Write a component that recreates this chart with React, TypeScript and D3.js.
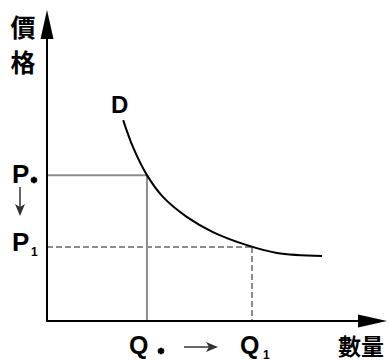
import React from "react";
import * as d3 from "d3";

const W = 389;
const H = 361;

// Demand curve D (quantity, price) in abstract units
const demandQ = [2.24, 2.53, 2.94, 3.41, 4.12, 4.88, 5.88, 6.76, 8.09];
const demandP = [6.46, 5.59, 4.69, 3.99, 3.34, 2.86, 2.44, 2.19, 2.09];

// Equilibrium points
const qStar = 2.94;
const pStar = 4.69;
const q1 = 6.03;
const p1 = 2.38;

const yLabel = ["價", "格"];
const xLabel = "數量";

export default function App() {
  const x = d3.scaleLinear().domain([0, 10]).range([47, 387]);
  const y = d3.scaleLinear().domain([0, 10]).range([321, 10]);

  const pts: [number, number][] = demandQ.map((q, i) => [x(q), y(demandP[i])]);
  const line = d3.line().curve(d3.curveCatmullRom.alpha(0.5))(pts) || "";

  const x0 = x(0);
  const y0 = y(0);
  const latin = "'Liberation Sans', Arial, sans-serif";
  const cjk = "'Noto Sans CJK TC', 'Noto Sans CJK SC', sans-serif";
  const grey = "#8c8c8c";
  const star = d3.symbol(d3.symbolAsterisk, 30)() || "";

  return (
    <svg
      width={W}
      height={H}
      style={{ position: "absolute", left: 0, top: 0, background: "#fff" }}
    >
      {/* guide lines */}
      <line x1={x0} x2={x(qStar)} y1={y(pStar)} y2={y(pStar)} stroke={grey} strokeWidth={2} />
      <line x1={x(qStar)} x2={x(qStar)} y1={y(pStar)} y2={y0} stroke={grey} strokeWidth={2} />
      <line x1={x0} x2={x(q1)} y1={y(p1)} y2={y(p1)} stroke={grey} strokeWidth={2} strokeDasharray="6,3" />
      <line x1={x(q1)} x2={x(q1)} y1={y(p1)} y2={y0} stroke={grey} strokeWidth={2} strokeDasharray="6,3" />

      {/* demand curve */}
      <path d={line} fill="none" stroke="#000" strokeWidth={2} />

      {/* axes */}
      <line x1={x0} x2={x0} y1={y0 + 1} y2={30} stroke="#000" strokeWidth={2} />
      <path d={`M${x0},${10} L${x0 - 6.5},${39} L${x0 + 6.5},${39} Z`} fill="#000" />
      <line x1={x0 - 1} x2={365} y1={y0} y2={y0} stroke="#000" strokeWidth={2} />
      <path d={`M${387},${y0} L${358},${y0 - 6.5} L${358},${y0 + 6.5} Z`} fill="#000" />

      {/* y-axis label */}
      <text x={23} y={37} textAnchor="middle" fontFamily={cjk} fontWeight={700} fontSize={25}>{yLabel[0]}</text>
      <text x={23} y={72} textAnchor="middle" fontFamily={cjk} fontWeight={700} fontSize={25}>{yLabel[1]}</text>

      {/* x-axis label */}
      <text x={361} y={355} textAnchor="middle" fontFamily={cjk} fontWeight={700} fontSize={23}>{xLabel}</text>

      {/* D label */}
      <text x={111} y={113} fontFamily={latin} fontWeight={700} fontSize={24}>D</text>

      {/* P labels */}
      <text x={12} y={183} fontFamily={latin} fontWeight={700} fontSize={26}>P</text>
      <path d={star} transform="translate(34,180)" fill="none" stroke="#000" strokeWidth={2.5} />
      <line x1={20} x2={20} y1={187} y2={208} stroke="#333" strokeWidth={1.5} />
      <path d="M15,204 L20,216 L25,204 L20,207 Z" fill="#333" />
      <text x={12} y={251} fontFamily={latin} fontWeight={700} fontSize={26}>P</text>
      <text x={31} y={256} fontFamily={latin} fontWeight={700} fontSize={12}>1</text>

      {/* Q labels */}
      <text x={129} y={354} fontFamily={latin} fontWeight={700} fontSize={25}>Q</text>
      <path d={star} transform="translate(161,351)" fill="none" stroke="#000" strokeWidth={2.5} />
      <line x1={184} x2={210} y1={347} y2={347} stroke="#333" strokeWidth={1.5} />
      <path d="M206,342 L218,347 L206,352 L209,347 Z" fill="#333" />
      <text x={240} y={354} fontFamily={latin} fontWeight={700} fontSize={25}>Q</text>
      <text x={263} y={359} fontFamily={latin} fontWeight={700} fontSize={12}>1</text>
    </svg>
  );
}
